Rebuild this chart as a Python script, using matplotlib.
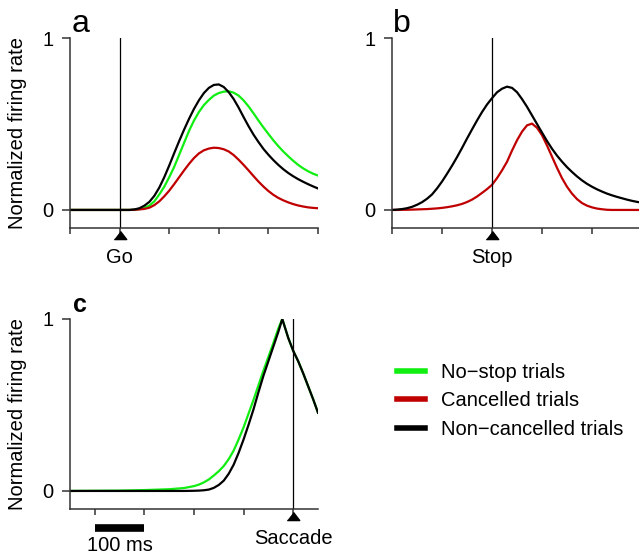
import matplotlib
matplotlib.use("Agg")
import matplotlib.pyplot as plt
import matplotlib.transforms as mtransforms

plt.rcParams['font.family'] = ['Liberation Sans', 'DejaVu Sans']

# ---- data (ms relative to event, normalized rate) ----
# panel a : aligned on Go
t_go = [-100, 0, 10, 20, 30, 40, 50, 60, 70, 80, 90, 100, 110, 120, 130, 140, 150,
        160, 170, 180, 190, 200, 210, 220, 230, 240, 250, 260, 270, 280, 290, 300,
        310, 320, 330, 340, 350, 360, 370, 380, 390, 400]
go_nostop = [0, 0, 0, 0, 0.001, 0.005, 0.013, 0.025, 0.05, 0.09, 0.135, 0.19, 0.25,
             0.32, 0.39, 0.46, 0.52, 0.57, 0.61, 0.64, 0.665, 0.68, 0.688, 0.69, 0.682,
             0.665, 0.637, 0.602, 0.562, 0.52, 0.48, 0.442, 0.405, 0.371, 0.34, 0.312,
             0.286, 0.262, 0.242, 0.225, 0.211, 0.20]
go_cancel = [0, 0, 0, 0, 0.001, 0.003, 0.006, 0.013, 0.028, 0.05, 0.079, 0.112, 0.15,
             0.19, 0.23, 0.268, 0.302, 0.329, 0.347, 0.357, 0.362, 0.36, 0.353, 0.34,
             0.319, 0.292, 0.262, 0.23, 0.197, 0.165, 0.136, 0.11, 0.088, 0.07, 0.056,
             0.044, 0.034, 0.026, 0.02, 0.015, 0.012, 0.01]
go_noncancel = [0, 0, 0, 0, 0.003, 0.01, 0.025, 0.047, 0.082, 0.13, 0.19, 0.258, 0.33,
                0.40, 0.467, 0.53, 0.588, 0.638, 0.68, 0.71, 0.727, 0.73, 0.715, 0.685,
                0.645, 0.595, 0.54, 0.487, 0.438, 0.395, 0.355, 0.321, 0.29, 0.262,
                0.237, 0.215, 0.196, 0.179, 0.164, 0.15, 0.137, 0.125]

# panel b : aligned on Stop
t_stop = [-200, -190, -180, -170, -160, -150, -140, -130, -120, -110, -100, -90, -80,
          -70, -60, -50, -40, -30, -20, -10, 0, 10, 20, 30, 40, 50, 60, 70, 80, 90,
          100, 110, 120, 130, 140, 150, 160, 170, 180, 190, 200, 210, 220, 230, 240,
          250, 260, 270, 280, 290, 300]
stop_cancel = [0, 0, 0.001, 0.001, 0.002, 0.003, 0.004, 0.005, 0.007, 0.009, 0.012,
               0.016, 0.021, 0.027, 0.035, 0.046, 0.06, 0.078, 0.099, 0.121, 0.146,
               0.185, 0.23, 0.28, 0.345, 0.405, 0.455, 0.492, 0.502, 0.478, 0.435,
               0.375, 0.31, 0.245, 0.185, 0.135, 0.095, 0.063, 0.04, 0.025, 0.015,
               0.008, 0.004, 0.001, 0, 0, 0, 0, 0, 0, 0]
stop_noncancel = [0, 0.002, 0.005, 0.01, 0.018, 0.03, 0.045, 0.065, 0.09, 0.125, 0.165,
                  0.21, 0.257, 0.307, 0.36, 0.415, 0.468, 0.52, 0.569, 0.613, 0.65,
                  0.684, 0.705, 0.717, 0.71, 0.685, 0.645, 0.60, 0.55, 0.50, 0.45, 0.401,
                  0.356, 0.316, 0.281, 0.249, 0.221, 0.195, 0.172, 0.152, 0.135, 0.12,
                  0.107, 0.095, 0.085, 0.076, 0.068, 0.06, 0.053, 0.047, 0.042]

# panel c : aligned on Saccade
t_sacc = [-450, -400, -350, -300, -250, -220, -200, -190, -180, -170, -160, -150, -140,
          -130, -120, -110, -100, -90, -80, -70, -60, -50, -40, -30, -22, -10, 0, 10,
          20, 30, 40, 50]
sacc_nostop = [0, 0.001, 0.002, 0.005, 0.01, 0.017, 0.028, 0.037, 0.05, 0.067, 0.09,
               0.115, 0.145, 0.185, 0.235, 0.30, 0.37, 0.45, 0.53, 0.615, 0.70, 0.78,
               0.86, 0.945, 1.0, 0.89, 0.815, 0.755, 0.685, 0.61, 0.535, 0.455]
sacc_noncancel = [0, 0, 0, 0, 0, 0, 0.001, 0.002, 0.004, 0.008, 0.018, 0.035, 0.06,
                  0.10, 0.153, 0.222, 0.30, 0.385, 0.475, 0.575, 0.67, 0.755, 0.84,
                  0.925, 1.0, 0.89, 0.815, 0.755, 0.685, 0.61, 0.535, 0.455]

green = '#11ee11'
red = '#c00000'
W, H = 639.0, 557.0
FS = 14.5


def box(x0, x1, ytop, ybot):
    return [x0 / W, 1 - ybot / H, (x1 - x0) / W, (ybot - ytop) / H]


tri = [(-1, -0.65), (1, -0.65), (0, 0.65)]


def style(ax, xlim, ticks, event, ylabel=True):
    ax.set_xlim(xlim)
    ax.set_ylim(-0.105, 1.0)
    for s in ['top', 'right']:
        ax.spines[s].set_visible(False)
    for s in ['left', 'bottom']:
        ax.spines[s].set_linewidth(1.1)
        ax.spines[s].set_color('#333333')
    ax.set_yticks([0, 1])
    ax.set_yticklabels(['0', '1'])
    ax.set_xticks(ticks)
    ax.set_xticklabels([])
    ax.tick_params(axis='y', length=6, width=1.1, pad=6, labelsize=FS, color='#333333')
    ax.tick_params(axis='x', length=4, width=1.1, color='#333333')
    ax.axvline(0, color='black', lw=0.9)
    trans = mtransforms.blended_transform_factory(ax.transData, ax.transAxes)
    ax.plot([0], [-0.035], marker=tri, ms=9, color='black', transform=trans, clip_on=False)
    ax.text(0, -0.105, event, transform=trans, ha='center', va='top', fontsize=FS)
    if ylabel:
        ax.set_ylabel('Normalized firing rate', fontsize=FS)
        ax.yaxis.set_label_coords(-0.175, 0.5)
    return trans


fig = plt.figure(figsize=(6.39, 5.57), dpi=100)

# a
ax = fig.add_axes(box(70, 318, 38, 228))
ax.plot(t_go, go_nostop, color=green, lw=1.6, label='No\u2212stop trials')
ax.plot(t_go, go_cancel, color=red, lw=1.6, label='Cancelled trials')
ax.plot(t_go, go_noncancel, color='black', lw=1.6, label='Non\u2212cancelled trials')
style(ax, (-100, 400), [-100, 0, 100, 200, 300, 400], 'Go')
handles, labels = ax.get_legend_handles_labels()

# b
ax = fig.add_axes(box(392, 639, 38, 228))
ax.plot(t_stop, stop_cancel, color=red, lw=1.6)
ax.plot(t_stop, stop_noncancel, color='black', lw=1.6)
style(ax, (-200, 294), [-200, -100, 0, 100, 200], 'Stop', ylabel=False)

# c
ax = fig.add_axes(box(70, 318, 319, 509))
ax.plot(t_sacc, sacc_nostop, color=green, lw=1.6)
ax.plot(t_sacc, sacc_noncancel, color='black', lw=1.6)
trans = style(ax, (-450, 50), [-400, -300, -200, -100, 0], 'Saccade')
# 100 ms scale bar
bar_start, bar_end = -400, -300
ax.plot([bar_start, bar_end], [-0.1, -0.1], color='black', lw=5.5,
        solid_capstyle='butt', transform=trans, clip_on=False)
ax.text((bar_start + bar_end) / 2, -0.14, '100 ms', transform=trans,
        ha='center', va='top', fontsize=FS)

fig.text(72 / W, 1 - 32 / H, 'a', fontsize=23, va='baseline', ha='left')
fig.text(393 / W, 1 - 32 / H, 'b', fontsize=23, va='baseline', ha='left')
fig.text(73 / W, 1 - 312 / H, 'c', fontsize=18, fontweight='bold', va='baseline', ha='left')

leg = fig.legend(handles, labels, loc='center left', bbox_to_anchor=(397 / W, 1 - 401 / H),
                 frameon=False, fontsize=FS, handlelength=1.4, handletextpad=0.8,
                 labelspacing=0.45, borderpad=0, borderaxespad=0)
for l in leg.get_lines():
    l.set_linewidth(4)

fig.savefig('out.png', dpi=100)
